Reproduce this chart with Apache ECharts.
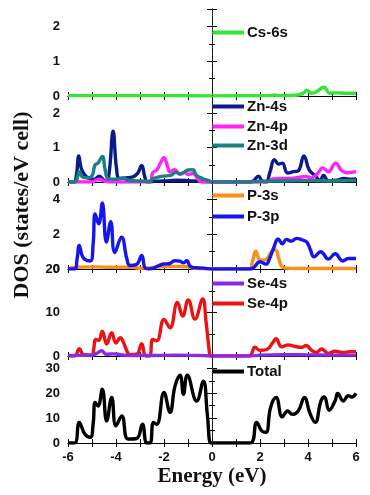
<!DOCTYPE html>
<html><head><meta charset="utf-8">
<script src="https://cdn.jsdelivr.net/npm/echarts@6.0.0/dist/echarts.min.js"></script>
<style>html,body{margin:0;padding:0;background:#fff}#c{width:370px;height:495px}</style>
</head><body><div id="c"></div>
<script>
// ---- data: [energy (eV), DOS (states/eV cell)] ----
const cs6s = [[-6,0.01],[-2,0.01],[0,0.005],[2.4,0.01],[2.6,0.03],[2.8,0.01],[3.5,0.02],[3.8,0.08],[3.95,0.17],[4.15,0.08],[4.35,0.12],[4.67,0.25],[4.9,0.08],[5.2,0.09],[5.6,0.08],[6,0.08]];

const zn4s = [[-6,0],[-5.75,0],[-5.65,0.2],[-5.55,0.76],[-5.45,0.4],[-5.3,0.2],[-5.1,0.1],[-4.9,0.08],[-4.7,0.17],[-4.55,0.08],[-4.4,0.02],[-4.28,0.3],[-4.12,1.48],[-3.98,0.4],[-3.85,0.1],[-3.6,0.12],[-3.3,0.15],[-3.1,0.25],[-2.93,0.48],[-2.8,0.15],[-2.7,0],[-2.4,0.02],[-2.0,0.03],[-1.5,0.05],[-1.0,0.04],[-0.5,0.02],[0,0],[1.6,0],[1.75,0.05],[1.93,0.17],[2.1,0.02],[2.25,0],[2.42,0.3],[2.6,0.65],[2.78,0.52],[2.93,0.55],[3.15,0.26],[3.4,0.3],[3.6,0.33],[3.83,0.76],[4.05,0.35],[4.3,0.18],[4.5,0.05],[4.65,0.19],[4.85,0.03],[5.2,0.05],[5.5,0.1],[5.8,0.08],[6,0.1]];

const zn4p = [[-6,0],[-5.0,0],[-4.85,0.05],[-4.7,0.08],[-4.5,0.03],[-4.3,0],[-2.6,0],[-2.47,0.27],[-2.3,0.35],[-2.15,0.55],[-2.0,0.71],[-1.85,0.45],[-1.75,0.3],[-1.55,0.36],[-1.35,0.22],[-1.15,0.28],[-1.0,0.22],[-0.8,0.25],[-0.6,0.1],[-0.45,0],[0,0],[2.3,0],[2.5,0.08],[2.8,0.1],[3.2,0.1],[3.6,0.13],[3.88,0.16],[4.15,0.12],[4.4,0.25],[4.62,0.41],[4.85,0.3],[5.15,0.55],[5.4,0.33],[5.65,0.27],[6,0.3]];

const zn3d = [[-6,0],[-5.7,0],[-5.6,0.15],[-5.53,0.3],[-5.4,0.15],[-5.2,0.12],[-5.0,0.18],[-4.87,0.5],[-4.75,0.55],[-4.57,0.74],[-4.45,0.35],[-4.33,0.1],[-4.0,0.08],[-3.7,0.12],[-3.5,0.05],[-3.0,0.03],[-2.6,0.02],[-2.45,0.1],[-2.2,0.15],[-1.9,0.18],[-1.7,0.2],[-1.5,0.28],[-1.3,0.24],[-1.0,0.35],[-0.8,0.36],[-0.65,0.2],[-0.4,0.1],[-0.1,0.03],[0,0],[1.6,0],[2,0.02],[3,0.03],[4,0.04],[5,0.03],[6,0.05]];

const p3s = [[-6,0],[-5.7,0.1],[-5,0.12],[-4,0.1],[-3.3,0.1],[-3,0.04],[-2.5,0.08],[-2,0.14],[-1.5,0.15],[-1,0.13],[-0.7,0.04],[0,0],[1.55,0],[1.68,0.4],[1.82,1.03],[1.95,0.6],[2.05,0.5],[2.25,0.55],[2.48,1.0],[2.65,1.1],[2.78,0.6],[2.9,0.15],[3.05,0.05],[3.5,0.03],[6,0.03]];

const p3p = [[-6,0],[-5.72,0],[-5.62,0.6],[-5.53,1.35],[-5.42,0.8],[-5.3,0.55],[-5.07,0.46],[-4.95,1.5],[-4.87,3.16],[-4.72,2.6],[-4.57,3.79],[-4.4,1.55],[-4.22,2.72],[-4.05,0.95],[-3.77,1.83],[-3.55,0.6],[-3.42,0.2],[-3.15,0.25],[-2.93,0.78],[-2.78,0.05],[-2.6,0],[-2.45,0.05],[-2.2,0.2],[-2.0,0.29],[-1.8,0.3],[-1.55,0.47],[-1.33,0.45],[-1.2,0.35],[-1.05,0.47],[-0.9,0.15],[-0.65,0.07],[-0.35,0.05],[0,0],[1.6,0],[1.75,0.1],[2.0,0.42],[2.25,0.28],[2.4,0.6],[2.56,1.18],[2.76,1.72],[2.93,1.45],[3.1,1.7],[3.3,1.6],[3.53,1.76],[3.74,1.68],[3.95,1.55],[4.1,1.1],[4.25,0.7],[4.53,0.99],[4.85,0.57],[5.13,0.88],[5.45,0.46],[5.68,0.6],[6,0.6]];

const se4s = [[-6,0.1],[-5,0.2],[-4.8,0.6],[-4.6,1.2],[-4.4,0.4],[-4.1,0.5],[-3.8,0.3],[-3.4,0.1],[-2.5,0.1],[-1.5,0.2],[-0.5,0.1],[0,0],[1.6,0],[2,0.2],[3,0.3],[4,0.25],[5,0.2],[6,0.2]];

const se4p = [[-6,0],[-5.72,0],[-5.53,1.7],[-5.35,0.3],[-5.0,0.2],[-4.93,1.5],[-4.85,3.8],[-4.72,3.6],[-4.57,5.7],[-4.39,2.8],[-4.18,5.35],[-4.0,3.0],[-3.82,4.2],[-3.68,3.0],[-3.55,1.2],[-3.42,0.3],[-3.14,0.4],[-2.93,2.8],[-2.76,0],[-2.6,0],[-2.47,3.8],[-2.3,3.5],[-2.0,8.4],[-1.75,6.5],[-1.44,12.3],[-1.22,9.2],[-0.99,12.9],[-0.71,8.5],[-0.39,13.1],[-0.25,8],[-0.1,0.5],[-0.05,0],[0,0],[1.55,0],[1.79,2.0],[2.0,1.3],[2.28,1.5],[2.56,3.3],[2.67,3.95],[2.9,2.1],[3.18,2.56],[3.46,2.2],[3.74,2.0],[3.92,2.4],[4.15,1.3],[4.35,0.8],[4.57,1.6],[4.85,0.6],[5.13,1.1],[5.47,0.8],[5.75,1.0],[6,1.0]];

const total = [[-6,0],[-5.72,0],[-5.53,8.3],[-5.3,3.6],[-5.07,2.3],[-4.95,8],[-4.87,16.3],[-4.75,14.9],[-4.57,21.6],[-4.39,8.9],[-4.18,18.3],[-4.0,6.9],[-3.76,10.9],[-3.5,1.6],[-3.14,1.8],[-2.9,7.6],[-2.72,0],[-2.58,0],[-2.44,8.3],[-2.3,7.5],[-2.0,20.3],[-1.75,12.3],[-1.54,23],[-1.33,27.3],[-1.19,19.6],[-1.03,27.3],[-0.64,16.9],[-0.36,24.9],[-0.2,12],[-0.06,0],[0,0],[1.58,0],[1.86,8.3],[2.07,4.9],[2.25,4.3],[2.44,14.3],[2.67,18.3],[2.93,10.5],[3.15,12.9],[3.35,11.5],[3.6,13],[3.85,18.3],[4.08,12],[4.3,8.3],[4.54,16.9],[4.68,18.5],[4.88,13.2],[5.13,17],[5.24,19.9],[5.47,16.9],[5.68,19],[5.82,18.5],[6,20]];

const xTitle = 'Energy (eV)';
const yTitle = 'DOS (states/eV cell)';

// ---- layout / style ----
const L = 68, R = 14;
const panels = [
  {top: 9,   h: 87, max: 2.5, interval: 1,  showMax: false, series: [['Cs-6s', cs6s, '#33e633', 33]]},
  {top: 96,  h: 86, max: 2.5, interval: 1,  showMax: false, series: [['Zn-4s', zn4s, '#0c1a8c', 107], ['Zn-4p', zn4p, '#ff22ff', 127], ['Zn-3d', zn3d, '#1a8080', 146]]},
  {top: 182, h: 87, max: 5,   interval: 2,  showMax: false, series: [['P-3s', p3s, '#ff8c1a', 196], ['P-3p', p3p, '#1515ee', 217]]},
  {top: 269, h: 87, max: 20,  interval: 10, showMax: true,  series: [['Se-4p', se4p, '#ee1111', 304], ['Se-4s', se4s, '#8a2be2', 284]]},
  {top: 356, h: 87, max: 35,  interval: 10, showMax: false, series: [['Total', total, '#000000', 372]]}
];

const font = 'Liberation Sans, Arial, sans-serif';
const grid = [], xAxis = [], yAxis = [], series = [], legend = [];
panels.forEach((p, i) => {
  grid.push({left: L, right: R, top: p.top, height: p.h, containLabel: false});
  const last = i === panels.length - 1;
  const axLine = {show: true, lineStyle: {color: '#000', width: 1}};
  xAxis.push({type: 'value', gridIndex: i, min: -6, max: 6, interval: 1, position: 'bottom',
    axisLine: axLine, splitLine: {show: false},
    axisTick: {show: true, inside: true, length: 4, lineStyle: {color: '#000'}},
    axisLabel: {show: last, margin: 8, color: '#111', fontSize: 13, fontWeight: 'bold', fontFamily: font,
      formatter: v => (Math.round(v) % 2 === 0 ? String(v) : '')}});
  xAxis.push({type: 'value', gridIndex: i, min: -6, max: 6, interval: 1, position: 'top',
    axisLine: axLine, splitLine: {show: false},
    axisTick: {show: true, inside: true, length: 4, lineStyle: {color: '#000'}},
    axisLabel: {show: false}});
  const yCommon = {type: 'value', gridIndex: i, min: 0, max: p.max, interval: p.interval,
    axisLine: axLine, splitLine: {show: false},
    axisTick: {show: true, inside: true, length: 5, lineStyle: {color: '#000'}},
    minorTick: {show: true, splitNumber: 2, length: 3, lineStyle: {color: '#000'}}};
  yAxis.push(Object.assign({}, yCommon, {position: 'left',
    axisLabel: {show: true, margin: 8, color: '#111', fontSize: 13, fontWeight: 'bold', fontFamily: font,
      showMaxLabel: p.showMax, showMinLabel: true}}));
  yAxis.push(Object.assign({}, yCommon, {position: 'right', axisLabel: {show: false}}));
  p.series.forEach(([name, data, color, ly], k) => {
    const s = {name, type: 'line', xAxisIndex: 2 * i, yAxisIndex: 2 * i, data,
      smooth: 0.45, showSymbol: false, symbol: 'none', color,
      lineStyle: {color, width: 3.4, join: 'round'}, z: 2 + k, animation: false};
    if (k === 0) {
      s.markLine = {silent: true, symbol: ['none', 'none'], label: {show: false},
        lineStyle: {type: 'dotted', color: '#333', width: 1}, data: [{xAxis: 0}], animation: false};
    }
    series.push(s);
    legend.push({data: [name], left: 212, top: ly - 8, padding: 0, orient: 'vertical',
      icon: 'rect', itemWidth: 32, itemHeight: 4, itemGap: 0, selectedMode: false,
      textStyle: {color: '#111', fontSize: 15, fontWeight: 'bold', fontFamily: font, padding: [0, 0, 0, -2]}});
  });
});

const chart = echarts.init(document.getElementById('c'), null, {renderer: 'canvas'});
chart.setOption({
  animation: false,
  backgroundColor: '#fff',
  grid, xAxis, yAxis, series, legend,
  graphic: [
    {type: 'text', x: 212, y: 477, style: {text: xTitle, fill: '#111',
      font: 'bold 21px "Liberation Serif", "Times New Roman", serif', textAlign: 'center', textVerticalAlign: 'middle'}},
    {type: 'text', x: 22, y: 205, rotation: Math.PI / 2,
      style: {text: yTitle, fill: '#111', font: 'bold 22px "Liberation Serif", "Times New Roman", serif',
        textAlign: 'center', textVerticalAlign: 'middle'}}
  ]
});
</script>
</body></html>
